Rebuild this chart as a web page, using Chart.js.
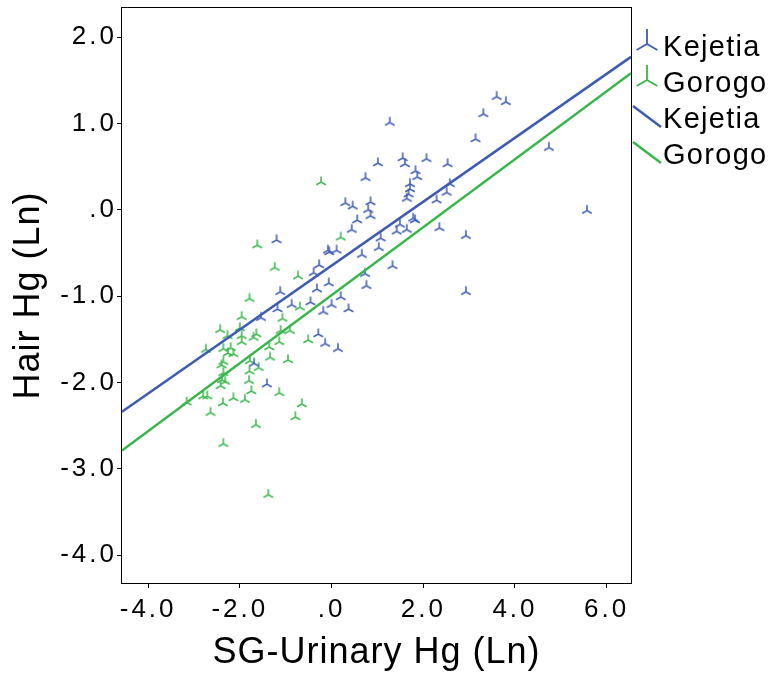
<!DOCTYPE html>
<html>
<head>
<meta charset="utf-8">
<script src="https://cdn.jsdelivr.net/npm/chart.js@4"></script>
<style>
  html, body { margin: 0; padding: 0; background: #fff; }
  canvas { display: block; }
</style>
</head>
<body>
<canvas id="chart" width="776" height="677"></canvas>
<script>
const groups = ['Kejetia', 'Gorogo'];

// Kejetia points (SG-urinary Hg ln, hair Hg ln)
const kejetiaX = [3.60, 3.80, 3.31, 1.27, 3.14, 4.74, 2.07, 2.53, 1.55, 1.60, 1.01, 1.83, 1.87, 2.58, 1.71,
  1.71, 1.68, 1.64, 2.51, 2.29, 5.57, 1.78, 1.82, 1.49, 1.42, 1.64, 2.35, 2.93, 1.07, 1.33,
  2.93, 0.74, 0.30, 0.46, 0.85, 0.80, 0.85, 0.56, 0.44, -1.20, -0.08, 0.11, -0.05, 0.66, -0.27,
  1.03, -0.39, 0.73, 0.76, -0.32, -0.06, -1.12, 0.20, -0.87, -0.46, 0.00, -0.18, 0.37, -1.18, -1.54,
  -0.29, -0.14, 0.14, -1.69, -1.41];
const kejetiaY = [1.31, 1.25, 1.11, 1.01, 0.82, 0.72, 0.59, 0.53, 0.60, 0.53, 0.54, 0.45, 0.38, 0.30, 0.30,
  0.24, 0.18, 0.13, 0.20, 0.11, -0.01, -0.10, -0.12, -0.17, -0.25, -0.23, -0.21, -0.30, -0.33, -0.65,
  -0.95, 0.37, 0.08, 0.04, 0.09, 0.00, -0.07, -0.12, -0.23, -0.35, -0.47, -0.47, -0.49, -0.52, -0.64,
  -0.44, -0.73, -0.74, -0.88, -0.92, -0.85, -0.95, -1.01, -1.10, -1.07, -1.10, -1.18, -1.15, -1.15, -1.25,
  -1.44, -1.55, -1.61, -1.78, -2.02];

// Gorogo points
const gorogoX = [-0.23, 0.20, -1.62, -1.24, -0.73, -1.79, -0.69, -1.96, -1.07, -2.43,
  -2.00, -2.27, -1.96, -1.64, -1.70, -1.11, -0.91, -1.96, -2.74, -2.36,
  -2.20, -2.26, -2.14, -1.36, -1.14, -0.51, -1.34, -0.95, -1.78, -1.59,
  -1.79, -2.36, -2.40, -2.36, -2.39, -2.32, -2.42, -1.80, -1.75, -1.14,
  -3.16, -2.80, -2.71, -2.37, -2.14, -1.89, -2.64, -0.65, -0.79, -1.65,
  -2.36, -1.38];
const gorogoY = [0.32, -0.32, -0.41, -0.67, -0.77, -1.03, -1.13, -1.24, -1.26, -1.39,
  -1.37, -1.46, -1.46, -1.44, -1.48, -1.40, -1.40, -1.53, -1.62, -1.61,
  -1.60, -1.66, -1.67, -1.59, -1.53, -1.51, -1.71, -1.74, -1.75, -1.83,
  -1.87, -1.76, -1.80, -1.89, -1.97, -1.99, -2.04, -1.98, -2.10, -2.12,
  -2.23, -2.16, -2.16, -2.24, -2.18, -2.20, -2.35, -2.25, -2.40, -2.49,
  -2.71, -3.30];

// fit lines, read at the left and right edge of the plot
const fitX = [-4.57, 6.53];
const kejetiaFit = [-2.34, 1.77];
const gorogoFit = [-2.79, 1.58];

const xTickValues = [-4, -2, 0, 2, 4, 6];
const xTickLabels = ['-4.0', '-2.0', '.0', '2.0', '4.0', '6.0'];
const yTickValues = [2, 1, 0, -1, -2, -3, -4];
const yTickLabels = ['2.0', '1.0', '.0', '-1.0', '-2.0', '-3.0', '-4.0'];

const FONT = '"Liberation Sans", Arial, sans-serif';
const BLUE = '#3d5bb3';
const GREEN = '#38b64a';

function drawTri(g, x, y, color, stem, leg, lw) {
  const dx = leg * Math.cos(Math.PI / 6), dy = leg * Math.sin(Math.PI / 6);
  g.save();
  g.strokeStyle = color;
  g.lineWidth = lw;
  g.beginPath();
  g.moveTo(x, y - stem);
  g.lineTo(x, y);
  g.moveTo(x - dx, y + dy);
  g.lineTo(x, y);
  g.lineTo(x + dx, y + dy);
  g.stroke();
  g.restore();
}

function triMarker(color) {
  const c = document.createElement('canvas');
  c.width = 14; c.height = 14;
  drawTri(c.getContext('2d'), 7, 7, color, 5.5, 5.5, 1.5);
  return c;
}

function pts(xs, ys) {
  return xs.map((x, i) => ({ x: x, y: ys[i] }));
}

// letter spacing for tick labels and axis titles
const spacing = {
  id: 'spacing',
  beforeDraw(chart) {
    Object.values(chart.scales).forEach(s => {
      if (s._spaced) return;
      s._spaced = true;
      const lab = s.drawLabels, tit = s.drawTitle;
      s.drawLabels = function (a) { this.ctx.save(); this.ctx.letterSpacing = '3px'; lab.call(this, a); this.ctx.restore(); };
      s.drawTitle = function () { this.ctx.save(); this.ctx.letterSpacing = '1px'; tit.call(this); this.ctx.restore(); };
    });
  }
};

const frame = {
  id: 'frame',
  afterDatasetsDraw(chart) {
    const { ctx, chartArea: a } = chart;
    ctx.save();
    ctx.strokeStyle = '#000';
    ctx.lineWidth = 1;
    ctx.strokeRect(Math.round(a.left) - 0.5, Math.round(a.top) - 0.5, a.right - a.left + 1, a.bottom - a.top + 1);
    ctx.restore();
  }
};

const legendBox = {
  id: 'legendBox',
  afterDraw(chart) {
    const ctx = chart.ctx;
    const colors = [BLUE, GREEN];
    ctx.save();
    ctx.font = '29px ' + FONT;
    ctx.letterSpacing = '1.3px';
    ctx.fillStyle = '#000';
    ctx.textBaseline = 'alphabetic';
    for (let i = 0; i < 4; i++) {
      const base = 56 + i * 36;
      const col = colors[i % 2];
      if (i < 2) {
        drawTri(ctx, 647, base - 12, col, 15, 12, 1.8);
      } else {
        ctx.strokeStyle = col;
        ctx.lineWidth = 2.5;
        ctx.beginPath();
        ctx.moveTo(633, base - 22);
        ctx.lineTo(661, base - 1);
        ctx.stroke();
      }
      ctx.fillText(groups[i % 2], 663, base);
    }
    ctx.restore();
  }
};

function noPad(s) {
  s.paddingTop = 0; s.paddingBottom = 0; s.paddingLeft = 0; s.paddingRight = 0;
}

new Chart(document.getElementById('chart'), {
  type: 'scatter',
  data: {
    datasets: [
      { label: groups[0] + ' fit', data: pts(fitX, kejetiaFit), showLine: true, borderColor: BLUE, borderWidth: 2.5, pointRadius: 0 },
      { label: groups[1] + ' fit', data: pts(fitX, gorogoFit), showLine: true, borderColor: GREEN, borderWidth: 2.5, pointRadius: 0 },
      { label: groups[0], data: pts(kejetiaX, kejetiaY), pointStyle: triMarker(BLUE), pointRadius: 5 },
      { label: groups[1], data: pts(gorogoX, gorogoY), pointStyle: triMarker(GREEN), pointRadius: 5 }
    ]
  },
  options: {
    responsive: false,
    animation: false,
    layout: { padding: { top: 8, right: 145, bottom: 0, left: 0 } },
    plugins: { legend: { display: false }, tooltip: { enabled: false } },
    scales: {
      x: {
        type: 'linear', min: -4.57, max: 6.53,
        afterBuildTicks: s => { s.ticks = xTickValues.map(v => ({ value: v })); },
        afterFit: s => { s.height = 94; noPad(s); },
        grid: { drawOnChartArea: false, drawTicks: true, tickLength: 5, tickColor: '#000' },
        border: { display: false },
        ticks: { autoSkip: false, maxRotation: 0, padding: 6, color: '#000', font: { family: FONT, size: 26 },
          callback: v => xTickLabels[xTickValues.indexOf(v)] },
        title: { display: true, text: 'SG-Urinary Hg (Ln)', color: '#000', font: { family: FONT, size: 36 }, padding: { top: 0, bottom: 2 } }
      },
      y: {
        type: 'linear', min: -4.324, max: 2.336,
        afterBuildTicks: s => { s.ticks = yTickValues.map(v => ({ value: v })); },
        afterFit: s => { s.width = 122; noPad(s); },
        grid: { drawOnChartArea: false, drawTicks: true, tickLength: 5, tickColor: '#000' },
        border: { display: false },
        ticks: { autoSkip: false, padding: 0, color: '#000', font: { family: FONT, size: 26 },
          callback: v => yTickLabels[yTickValues.indexOf(v)] },
        title: { display: true, text: 'Hair Hg (Ln)', color: '#000', font: { family: FONT, size: 36 }, padding: { top: 7, bottom: 0 } }
      }
    }
  },
  plugins: [spacing, frame, legendBox]
});
</script>
</body>
</html>
